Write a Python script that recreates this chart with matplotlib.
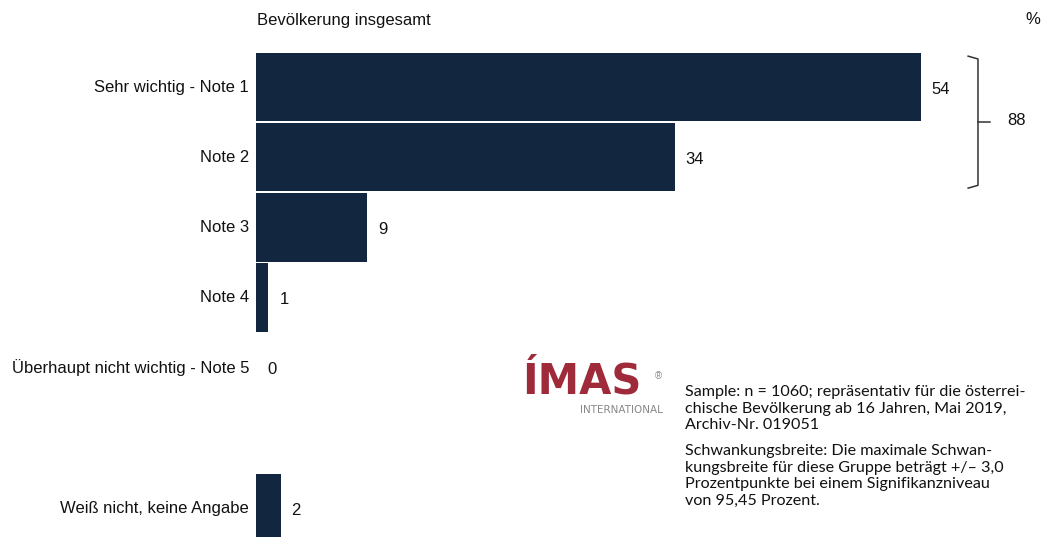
import matplotlib
matplotlib.use("Agg")
from matplotlib import pyplot as plt

# data (percent)
categories = ["Sehr wichtig - Note 1", "Note 2", "Note 3", "Note 4",
              "Überhaupt nicht wichtig - Note 5", "Weiß nicht, keine Angabe"]
values = [54, 34, 9, 1, 0, 2]
top_two_label = "88"
title = "Bevölkerung insgesamt"
note_sample = ("Sample: n = 1060; repräsentativ für die österrei-\n"
               "chische Bevölkerung ab 16 Jahren, Mai 2019,\n"
               "Archiv-Nr. 019051")
note_error = ("Schwankungsbreite: Die maximale Schwan-\n"
              "kungsbreite für diese Gruppe beträgt +/– 3,0\n"
              "Prozentpunkte bei einem Signifikanzniveau\n"
              "von 95,45 Prozent.")

BAR = "#13263f"
W, H = 1050, 537

plt.rcParams["font.family"] = ["Liberation Sans", "DejaVu Sans"]

fig = plt.figure(figsize=(W / 100, H / 100), dpi=100)
# one row = 70.2 px, one percent = 12.31 px
ax = fig.add_axes([256 / W, 0, 60 * 12.31 / W, 1])
ax.set_xlim(0, 60)
ax.set_ylim(6.41, -1.24)
ax.axis("off")

# the "don't know" row sits one slot further down
rows = list(range(len(categories) - 1)) + [len(categories)]
ax.barh(rows, values, height=0.975, color=BAR, left=0)

for r, cat, v in zip(rows, categories, values):
    ax.annotate(cat, (0, r), xytext=(-7, 0), textcoords="offset pixels",
                ha="right", va="center", fontsize=12, color="#111111")
    ax.annotate(str(v), (v, r), xytext=(11, -2), textcoords="offset pixels",
                ha="left", va="center", fontsize=12, color="#111111")

# bracket around the two top rows
bx = max(values) + 4.65
y0, y1 = rows[0] - 0.44, rows[1] + 0.44
ym = (y0 + y1) / 2
hook = 0.8
ax.plot([bx - hook, bx, bx, bx - hook], [y0, y0 + 0.04, y1 - 0.04, y1],
        color="#333333", lw=1.1, solid_joinstyle="round", clip_on=False)
ax.plot([bx, bx + 0.95], [ym, ym], color="#333333", lw=1.1, clip_on=False)
ax.annotate(top_two_label, (bx + 0.95, ym), xytext=(18, 2),
            textcoords="offset pixels", ha="left", va="center", fontsize=12,
            color="#111111")

fig.text(257 / W, 1 - 20 / H, title, ha="left", va="center", fontsize=12,
         color="#111111")
fig.text(1040 / W, 1 - 20 / H, "%", ha="right", va="center", fontsize=12,
         color="#111111")

# logo
fig.text(522 / W, 1 - 394 / H, "ÍMAS", ha="left", va="baseline", fontsize=30,
         fontweight="bold", color="#9e2a3a", family="DejaVu Sans")
fig.text(655 / W, 1 - 376 / H, "®", ha="left", va="center", fontsize=7,
         color="#888888")
fig.text(663 / W, 1 - 410 / H, "INTERNATIONAL", ha="right", va="center",
         fontsize=7.5, color="#888888", family="DejaVu Sans Condensed")

# footnotes
fig.text(685 / W, 1 - 385 / H, note_sample, ha="left", va="top",
         fontsize=11.6, linespacing=1.24, color="#111111", family="Lato")
fig.text(685 / W, 1 - 444 / H, note_error, ha="left", va="top",
         fontsize=11.6, linespacing=1.24, color="#111111", family="Lato")

fig.savefig("out.png", dpi=100)
